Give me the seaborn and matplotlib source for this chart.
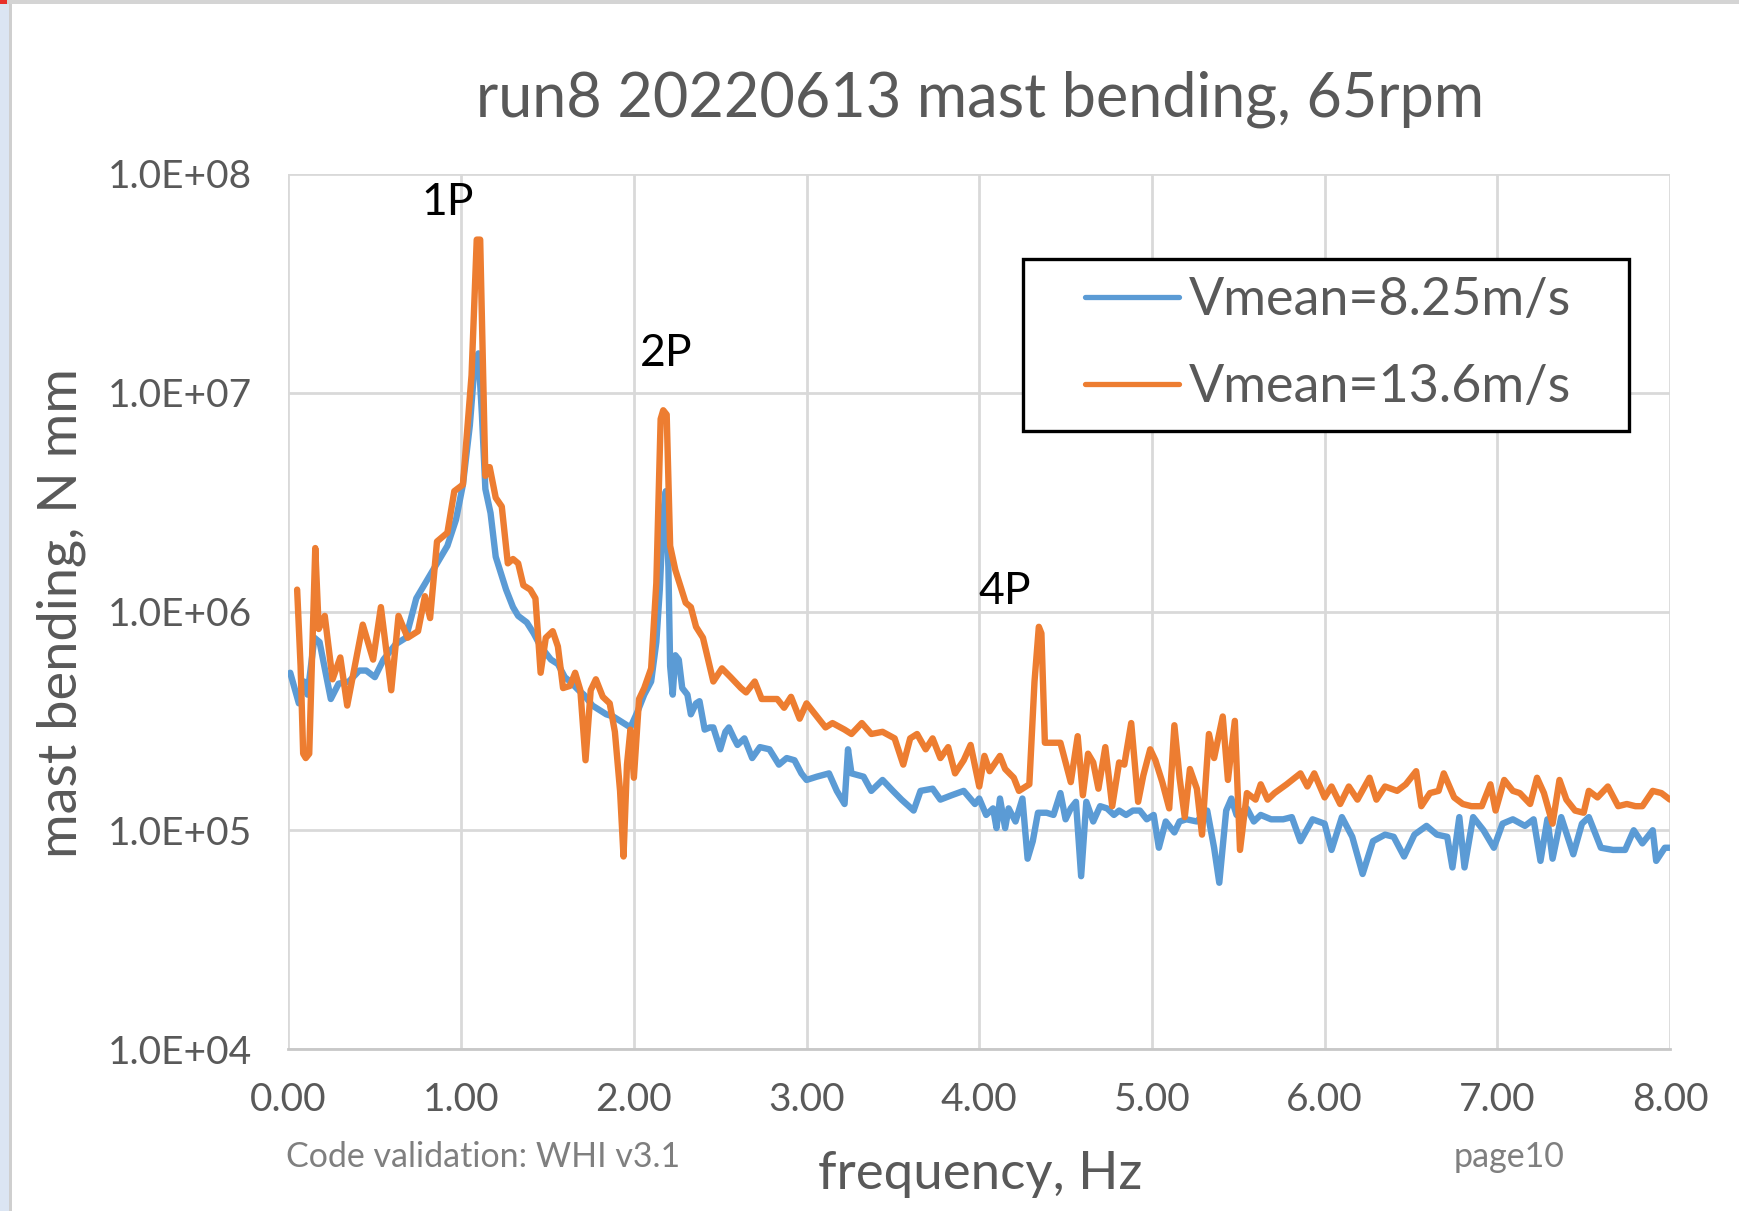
import numpy as np
import pandas as pd
import matplotlib
matplotlib.use("Agg")
import matplotlib.pyplot as plt
from matplotlib.patches import Rectangle
from matplotlib.ticker import FixedLocator, FuncFormatter, NullLocator
import seaborn as sns

# ---------------- data (log10 of mast bending, N mm) ----------------
freq_a = [0.01, 0.06, 0.09, 0.11, 0.15, 0.18, 0.22, 0.245, 0.29, 0.35, 0.41, 0.45, 0.50, 0.55, 0.62,
          0.68, 0.74, 0.80, 0.86, 0.92, 0.97, 1.01, 1.05, 1.08, 1.10, 1.12, 1.14, 1.17, 1.20, 1.22,
          1.26, 1.30, 1.33, 1.38, 1.42, 1.46, 1.52, 1.56, 1.60, 1.63, 1.68, 1.71, 1.76, 1.80, 1.84,
          1.88, 1.92, 1.96, 1.98, 2.02, 2.06, 2.10, 2.13, 2.15, 2.17, 2.185, 2.20, 2.21, 2.225, 2.24,
          2.26, 2.28, 2.31, 2.33, 2.36, 2.38, 2.41, 2.44, 2.46, 2.50, 2.53, 2.55, 2.58, 2.60, 2.64,
          2.685, 2.73, 2.785, 2.84, 2.885, 2.93, 2.97, 3.00, 3.06, 3.13, 3.175, 3.22, 3.24, 3.26, 3.33,
          3.375, 3.44, 3.50, 3.55, 3.62, 3.66, 3.73, 3.775, 3.84, 3.91, 3.975,
          4.00, 4.04, 4.08, 4.10, 4.12, 4.15, 4.17, 4.21, 4.25, 4.28, 4.31, 4.34, 4.39, 4.43, 4.47,
          4.50, 4.53, 4.56, 4.59, 4.62, 4.66, 4.70, 4.74, 4.78, 4.81, 4.85, 4.89, 4.93, 4.97, 5.01,
          5.04, 5.08, 5.13, 5.16, 5.20, 5.26, 5.32, 5.36, 5.39, 5.43, 5.46, 5.49, 5.55, 5.59, 5.63,
          5.69, 5.76, 5.81, 5.86, 5.93, 6.00, 6.04, 6.10, 6.16, 6.22, 6.28, 6.35, 6.40, 6.46, 6.52,
          6.59, 6.65, 6.71, 6.74, 6.78, 6.81, 6.86, 6.92, 6.98, 7.03, 7.09, 7.16, 7.21, 7.25, 7.29,
          7.32, 7.37, 7.44, 7.49, 7.53, 7.60, 7.67, 7.74, 7.79, 7.84, 7.90, 7.92, 7.97, 8.00]
log_a = [5.72, 5.58, 5.68, 5.62, 5.88, 5.86, 5.70, 5.60, 5.67, 5.68, 5.73, 5.73, 5.70, 5.78, 5.85,
         5.88, 6.06, 6.14, 6.22, 6.30, 6.42, 6.58, 6.85, 7.15, 7.18, 6.90, 6.56, 6.45, 6.25, 6.20,
         6.10, 6.02, 5.98, 5.95, 5.90, 5.84, 5.78, 5.76, 5.70, 5.68, 5.64, 5.62, 5.57, 5.55, 5.53,
         5.52, 5.50, 5.48, 5.47, 5.54, 5.62, 5.68, 5.86, 6.10, 6.45, 6.55, 6.20, 5.75, 5.62, 5.80,
         5.78, 5.65, 5.62, 5.53, 5.58, 5.59, 5.46, 5.47, 5.47, 5.37, 5.45, 5.47, 5.42, 5.39, 5.42,
         5.33, 5.38, 5.37, 5.30, 5.33, 5.32, 5.26, 5.23, 5.245, 5.26, 5.18, 5.12, 5.37, 5.26, 5.245,
         5.18, 5.23, 5.18, 5.14, 5.09, 5.18, 5.19, 5.14, 5.16, 5.18, 5.12,
         5.145, 5.07, 5.10, 5.01, 5.145, 5.01, 5.10, 5.04, 5.145, 4.87, 4.95, 5.08, 5.08, 5.07, 5.17,
         5.05, 5.10, 5.13, 4.79, 5.13, 5.04, 5.11, 5.10, 5.07, 5.09, 5.07, 5.09, 5.09, 5.05, 5.07,
         4.92, 5.04, 4.99, 5.04, 5.05, 5.04, 5.09, 4.92, 4.76, 5.09, 5.145, 5.07, 5.10, 5.04, 5.07,
         5.05, 5.05, 5.06, 4.95, 5.05, 5.03, 4.91, 5.06, 4.97, 4.80, 4.95, 4.98, 4.97, 4.88, 4.98,
         5.02, 4.98, 4.97, 4.83, 5.06, 4.83, 5.06, 5.00, 4.92, 5.03, 5.05, 5.02, 5.05, 4.86, 5.05,
         4.87, 5.06, 4.89, 5.03, 5.06, 4.92, 4.91, 4.91, 5.00, 4.94, 5.00, 4.86, 4.92, 4.92]

freq_b = [0.05, 0.07, 0.085, 0.10, 0.12, 0.155, 0.175, 0.21, 0.255, 0.30, 0.34, 0.43, 0.49, 0.535,
          0.595, 0.637, 0.69, 0.75, 0.79, 0.82, 0.86, 0.92, 0.96, 1.01, 1.06, 1.09, 1.11, 1.14, 1.165,
          1.20, 1.235, 1.27, 1.30, 1.33, 1.36, 1.40, 1.43, 1.46, 1.49, 1.53, 1.56, 1.59, 1.63, 1.66,
          1.69, 1.72, 1.75, 1.78, 1.82, 1.86, 1.89, 1.92, 1.94, 1.96, 1.98, 2.00, 2.03, 2.06, 2.10,
          2.13, 2.155, 2.17, 2.19, 2.21, 2.24, 2.30, 2.33, 2.36, 2.40, 2.46, 2.51, 2.56, 2.62, 2.65,
          2.70, 2.74, 2.785, 2.83, 2.87, 2.91, 2.96, 3.00, 3.05, 3.11, 3.15, 3.22, 3.26, 3.32, 3.375,
          3.44, 3.51, 3.56, 3.60, 3.64, 3.69, 3.73, 3.775, 3.82, 3.86, 3.91, 3.95, 4.00, 4.03, 4.06,
          4.12, 4.15, 4.20, 4.23, 4.29, 4.32, 4.345, 4.36, 4.38, 4.43, 4.47, 4.50, 4.53, 4.57, 4.60,
          4.63, 4.66, 4.69, 4.73, 4.77, 4.81, 4.84, 4.88, 4.92, 4.95, 4.99, 5.02, 5.06, 5.10, 5.13,
          5.16, 5.19, 5.22, 5.26, 5.29, 5.33, 5.36, 5.41, 5.44, 5.48, 5.51, 5.55, 5.60, 5.63, 5.67,
          5.71, 5.78, 5.86, 5.90, 5.94, 6.00, 6.04, 6.09, 6.14, 6.19, 6.26, 6.30, 6.35, 6.42, 6.47,
          6.53, 6.56, 6.61, 6.66, 6.69, 6.75, 6.80, 6.85, 6.91, 6.96, 6.99, 7.04, 7.09, 7.13, 7.19,
          7.23, 7.27, 7.32, 7.36, 7.40, 7.45, 7.50, 7.53, 7.58, 7.64, 7.70, 7.75, 7.80, 7.84, 7.90,
          7.95, 8.00]
log_b = [6.10, 5.75, 5.35, 5.33, 5.35, 6.29, 5.92, 5.98, 5.69, 5.79, 5.57, 5.94, 5.78, 6.02,
         5.64, 5.98, 5.88, 5.91, 6.07, 5.97, 6.32, 6.36, 6.55, 6.58, 7.08, 7.70, 7.70, 6.62, 6.66,
         6.52, 6.48, 6.22, 6.24, 6.22, 6.12, 6.10, 6.06, 5.72, 5.88, 5.91, 5.84, 5.65, 5.66, 5.72,
         5.64, 5.32, 5.64, 5.69, 5.61, 5.58, 5.45, 5.18, 4.88, 5.30, 5.46, 5.24, 5.60, 5.65, 5.74,
         6.13, 6.88, 6.92, 6.90, 6.30, 6.19, 6.04, 6.02, 5.93, 5.88, 5.68, 5.74, 5.70, 5.65, 5.63,
         5.68, 5.60, 5.60, 5.60, 5.56, 5.61, 5.51, 5.58, 5.53, 5.47, 5.49, 5.46, 5.44, 5.49, 5.44,
         5.45, 5.42, 5.30, 5.42, 5.44, 5.37, 5.42, 5.33, 5.38, 5.26, 5.32, 5.39, 5.20, 5.34, 5.27,
         5.34, 5.28, 5.24, 5.18, 5.21, 5.68, 5.93, 5.90, 5.40, 5.40, 5.40, 5.31, 5.22, 5.43, 5.16,
         5.35, 5.31, 5.19, 5.38, 5.11, 5.31, 5.30, 5.49, 5.13, 5.25, 5.37, 5.32, 5.22, 5.10, 5.48,
         5.24, 5.06, 5.28, 5.19, 4.98, 5.44, 5.33, 5.52, 5.23, 5.50, 4.91, 5.17, 5.14, 5.21, 5.14,
         5.17, 5.21, 5.26, 5.20, 5.26, 5.15, 5.20, 5.12, 5.20, 5.14, 5.24, 5.14, 5.20, 5.18, 5.21,
         5.27, 5.11, 5.17, 5.18, 5.26, 5.15, 5.12, 5.11, 5.11, 5.21, 5.09, 5.23, 5.18, 5.17, 5.12,
         5.24, 5.17, 5.03, 5.23, 5.14, 5.09, 5.08, 5.18, 5.15, 5.20, 5.11, 5.12, 5.11, 5.11, 5.18,
         5.17, 5.14]

series_labels = ["Vmean=8.25m/s", "Vmean=13.6m/s"]
series_colors = ["#5B9BD5", "#ED7D31"]
peak_labels = ["1P", "2P", "4P"]
peak_freq = [0.92, 2.19, 4.15]
peak_log = [7.87, 7.18, 6.09]
x_ticks = [0, 1, 2, 3, 4, 5, 6, 7, 8]
y_ticks = [1e4, 1e5, 1e6, 1e7, 1e8]

title_text = "run8 20220613 mast bending, 65rpm"
xlabel_text = "frequency, Hz"
ylabel_text = "mast bending, N mm"
footer_left = "Code validation: WHI v3.1"
footer_right = "page10"

# ---------------- figure ----------------
sns.set_theme(style="white")
plt.rcParams["font.family"] = ["Lato", "DejaVu Sans"]

W, H = 1740, 1211
fig = plt.figure(figsize=(W / 100, H / 100), dpi=100)
fig.patch.set_facecolor("white")

def fx(px):
    return px / W

def fy(py):
    return 1 - py / H

ax = fig.add_axes([fx(288.5), fy(1049), fx(1670) - fx(288.5), fy(174) - fy(1049)])

df_a = pd.DataFrame({"f": freq_a, "v": np.power(10.0, log_a)})
df_b = pd.DataFrame({"f": freq_b, "v": np.power(10.0, log_b)})
LW = 4.6
sns.lineplot(data=df_a, x="f", y="v", ax=ax, color=series_colors[0], linewidth=LW,
             estimator=None, label=series_labels[0])
sns.lineplot(data=df_b, x="f", y="v", ax=ax, color=series_colors[1], linewidth=LW,
             estimator=None, label=series_labels[1])
plt.setp(ax.get_lines(), linewidth=LW, solid_joinstyle="round", solid_capstyle="round")

ax.set_yscale("log")
ax.set_xlim(0, 8)
ax.set_ylim(1e4, 1e8)
ax.xaxis.set_major_locator(FixedLocator(x_ticks))
ax.yaxis.set_major_locator(FixedLocator(y_ticks))
ax.yaxis.set_minor_locator(NullLocator())
ax.xaxis.set_major_formatter(FuncFormatter(lambda v, p: f"{v:.2f}"))
ax.yaxis.set_major_formatter(FuncFormatter(lambda v, p: f"{v:.1E}"))
ax.tick_params(axis="both", length=0, labelsize=28, labelcolor="#595959")
ax.tick_params(axis="y", pad=26)
ax.tick_params(axis="x", pad=24)
ax.grid(True, which="major", color="#d9d9d9", lw=2.0)
ax.set_axisbelow(True)
for s in ["top", "right", "left"]:
    ax.spines[s].set_visible(False)
ax.spines["bottom"].set_color("#c8c8c8")
ax.spines["bottom"].set_linewidth(2.0)
ax.set_xlabel("")
ax.set_ylabel("")

for lab, fq, lv in zip(peak_labels, peak_freq, peak_log):
    ax.text(fq, 10 ** lv, lab, ha="center", va="center", fontsize=32, color="black")

# legend (frameless) + manual black box drawn inside the axes
leg = ax.legend(loc="center left", bbox_to_anchor=(fx(1085), fy(344)),
                bbox_transform=fig.transFigure, frameon=False, fontsize=37.5,
                handlelength=1.8, handletextpad=0.2, labelspacing=0.76,
                borderpad=0, borderaxespad=0)
for t in leg.get_texts():
    t.set_color("#595959")
for h in leg.get_lines():
    h.set_linewidth(3.8)
box = Rectangle((fx(1023), fy(431)), fx(1629) - fx(1023), fy(259) - fy(431),
                transform=fig.transFigure, fill=True, facecolor="white",
                edgecolor="black", lw=2.4, zorder=4, clip_on=False)
ax.add_artist(box)
leg.set_zorder(6)

# texts
fig.text(fx(980), fy(99), title_text, ha="center", va="center", fontsize=44, color="#595959")
fig.text(fx(980), fy(1174), xlabel_text, ha="center", va="center", fontsize=38, color="#595959")
fig.text(fx(61), fy(613), ylabel_text, ha="center", va="center", rotation=90, fontsize=39,
         color="#595959")
fig.text(fx(286), fy(1157), footer_left, ha="left", va="center", fontsize=24.5, color="#7f7f7f")
fig.text(fx(1565), fy(1157), footer_right, ha="right", va="center", fontsize=24.5, color="#7f7f7f")

# screenshot frame edges
fig.patches.append(Rectangle((0, 0), fx(9), 1, transform=fig.transFigure,
                             facecolor="#dbe5f3", edgecolor="none", zorder=0))
fig.patches.append(Rectangle((fx(9), 0), fx(3), 1, transform=fig.transFigure,
                             facecolor="#cfcfcf", edgecolor="none", zorder=0))
fig.patches.append(Rectangle((0, fy(4)), 1, fy(0) - fy(4), transform=fig.transFigure,
                             facecolor="#d4d4d4", edgecolor="none", zorder=0))
fig.patches.append(Rectangle((0, fy(4)), fx(7), fy(0) - fy(4), transform=fig.transFigure,
                             facecolor="#e8302a", edgecolor="none", zorder=0))

fig.savefig("out.png", dpi=100, facecolor="white")
